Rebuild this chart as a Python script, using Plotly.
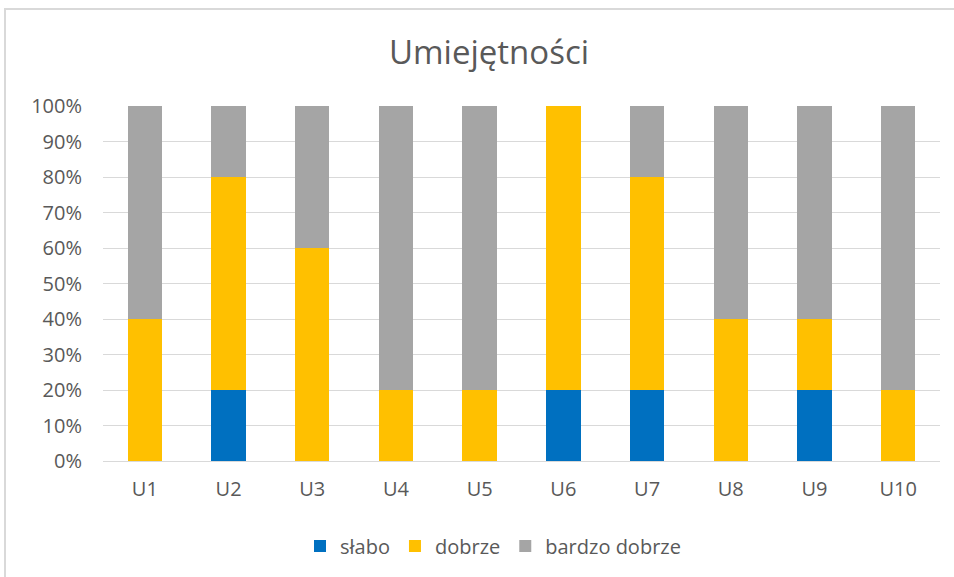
import plotly.graph_objects as go

categories = ["U1", "U2", "U3", "U4", "U5", "U6", "U7", "U8", "U9", "U10"]
slabo = [0, 20, 0, 0, 0, 20, 20, 0, 20, 0]
dobrze = [40, 60, 60, 20, 20, 80, 60, 40, 20, 20]
bardzo_dobrze = [60, 20, 40, 80, 80, 0, 20, 60, 60, 80]
y_ticks = [0, 10, 20, 30, 40, 50, 60, 70, 80, 90, 100]
y_tick_labels = [f"{v}%" for v in y_ticks]

W, H = 954, 577
L, R, T, B = 103, 14, 106, 116
pw, ph = W - L - R, H - T - B

fig = go.Figure()
for name, vals, col in [("słabo", slabo, "#0070C0"),
                        ("dobrze", dobrze, "#FFC000"),
                        ("bardzo dobrze", bardzo_dobrze, "#A5A5A5")]:
    fig.add_trace(go.Bar(x=categories, y=vals, name=name, marker_color=col,
                         marker_line_width=0))

font = dict(family="Open Sans, Liberation Sans, sans-serif", color="#595959")
fig.update_layout(
    width=W, height=H,
    margin=dict(l=L, r=R, t=T, b=B),
    barmode="stack", bargap=0.59,
    plot_bgcolor="white", paper_bgcolor="white",
    font=dict(**font, size=20),
    title=dict(text="Umiejętności", x=(489 - L) / pw * pw / W + L / W, xanchor="center",
               y=1 - 52 / H, yanchor="middle", font=dict(**font, size=33)),
    legend=dict(orientation="h", x=(493 - L) / pw, xanchor="center", y=-(546 - (T + ph)) / ph,
                yanchor="middle", font=dict(**font, size=20), traceorder="normal", itemwidth=30),
    xaxis=dict(showgrid=False, showline=True, linecolor="#D9D9D9", ticks="",
               tickfont=dict(size=20), ticklabelstandoff=10),
    yaxis=dict(range=[0, 100], tickvals=y_ticks, ticktext=y_tick_labels, showgrid=True,
               gridcolor="#D9D9D9", zeroline=False, ticks="", tickfont=dict(size=20),
               ticklabelstandoff=20),
)
# chart border
fig.add_shape(type="rect", xref="paper", yref="paper",
              x0=(5 - L) / pw, x1=(W + 5 - L) / pw,
              y0=1 - (H + 5 - T) / ph, y1=1 + (T - 9) / ph,
              line=dict(color="#D9D9D9", width=2), fillcolor="rgba(0,0,0,0)", layer="below")
fig.write_html("out.html", config={"displayModeBar": False},
               post_script="document.body.style.margin='0';")
